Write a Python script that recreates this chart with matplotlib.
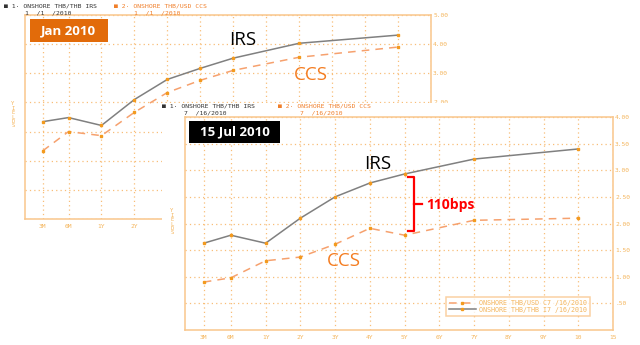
import matplotlib
matplotlib.use("Agg")
import matplotlib.pyplot as plt
from matplotlib.patches import Rectangle
from matplotlib.lines import Line2D

# tenors and their (uneven) places on the axis
tenor_labels = ["3M", "6M", "1Y", "2Y", "3Y", "4Y", "5Y", "6Y", "7Y", "8Y", "9Y", "10", "15"]
tenor_pos = [-0.78, 0, 1, 2, 3, 4, 5, 6, 7, 8, 9, 10, 11]
data_pos = [-0.78, 0, 1, 2, 3, 4, 5, 7, 10]

# Jan 2010
irs_jan = [1.34, 1.48, 1.21, 2.10, 2.79, 3.17, 3.52, 4.03, 4.31]
ccs_jan = [0.34, 1.00, 0.86, 1.66, 2.34, 2.76, 3.10, 3.55, 3.90]
# 15 Jul 2010
irs_jul = [1.63, 1.78, 1.63, 2.10, 2.50, 2.76, 2.93, 3.21, 3.40]
ccs_jul = [0.90, 0.98, 1.30, 1.37, 1.61, 1.91, 1.78, 2.06, 2.10]

jan_yticks = [-2, -1, 0, 1, 2, 3, 4, 5]
jul_yticks = [0.5, 1.0, 1.5, 2.0, 2.5, 3.0, 3.5, 4.0]
jul_ylabels = [".50", "1.00", "1.50", "2.00", "2.50", "3.00", "3.50", "4.00"]

W, H = 640, 345
AX = "#F9C68C"     # spines / ticks
GRID = "#F8BE78"
TXT = "#F4B55C"
MRK = "#F39A1E"
GREY = "#808080"
CCSC = "#F6A16E"
MONO = "DejaVu Sans Mono"


def rect(x0, y0, x1, y1):
    return [x0 / W, 1 - y1 / H, (x1 - x0) / W, (y1 - y0) / H]


def fx(x):
    return x / W


def fy(y):
    return 1 - y / H


def style(ax, ylim, yticks, ylabels):
    ax.set_xlim(-1.32, 11)
    ax.set_ylim(*ylim)
    ax.set_xticks(tenor_pos)
    ax.set_xticklabels(tenor_labels)
    ax.set_yticks(yticks)
    ax.set_yticklabels(ylabels)
    ax.yaxis.tick_right()
    ax.tick_params(length=0, labelsize=4.5, labelcolor=TXT)
    ax.tick_params(axis="x", pad=3.5)
    ax.tick_params(axis="y", pad=1.5)
    for lab in ax.get_xticklabels() + ax.get_yticklabels():
        lab.set_family(MONO)
    for s in ax.spines.values():
        s.set_color(AX)
        s.set_linewidth(1.1)
    ax.grid(True, color=GRID, linestyle=(0, (1, 2.5)), linewidth=0.9)
    ax.set_axisbelow(True)


fig = plt.figure(figsize=(6.4, 3.45), dpi=100)

# background chart: Jan 2010
ax1 = fig.add_axes(rect(25, 15, 431, 219), zorder=0)
style(ax1, (-2, 5), jan_yticks, ["%.2f" % v for v in jan_yticks])
ax1.plot(data_pos, ccs_jan, color=CCSC, lw=1.1, dashes=(5, 4),
         marker="s", ms=1.8, mfc=MRK, mec=MRK)
ax1.plot(data_pos, irs_jan, color=GREY, lw=1.1,
         marker="s", ms=1.8, mfc=MRK, mec=MRK)

# white panel for the front chart
panel = fig.add_axes(rect(162, 103, 640, 345), zorder=1)
panel.set_facecolor("white")
panel.set_xticks([])
panel.set_yticks([])
for s in panel.spines.values():
    s.set_visible(False)

# front chart: 15 Jul 2010
ax2 = fig.add_axes(rect(185, 117, 613, 330), zorder=2)
ax2.set_facecolor("white")
style(ax2, (0, 4), jul_yticks, jul_ylabels)
l_ccs, = ax2.plot(data_pos, ccs_jul, color=CCSC, lw=1.1, dashes=(5, 4),
                  marker="s", ms=1.8, mfc=MRK, mec=MRK)
l_irs, = ax2.plot(data_pos, irs_jul, color=GREY, lw=1.1,
                  marker="s", ms=1.8, mfc=MRK, mec=MRK)
leg = ax2.legend([l_ccs, l_irs],
                 ["ONSHORE THB/USD C7 /16/2010", "ONSHORE THB/THB I7 /16/2010"],
                 loc="center", bbox_to_anchor=(fx(518), fy(306.5)),
                 bbox_transform=fig.transFigure, fontsize=4.8, frameon=True,
                 fancybox=False, handlelength=4.0, borderpad=0.5, numpoints=1,
                 labelspacing=0.05, handletextpad=0.5, borderaxespad=0)
leg.get_frame().set_edgecolor(AX)
leg.get_frame().set_linewidth(1.1)
for t in leg.get_texts():
    t.set_color(TXT)
    t.set_family(MONO)

# header texts
hdr = dict(fontsize=4.6, family=MONO, va="center", ha="left")
fig.text(fx(4), fy(6), "■ 1· ONSHORE THB/THB IRS", color="#333333", **hdr)
fig.text(fx(25), fy(13), "1  /1  /2010", color="#333333", **hdr)
fig.text(fx(114), fy(6), "■ 2· ONSHORE THB/USD CCS", color="#F07F2A", **hdr)
fig.text(fx(134), fy(13), "1  /1  /2010", color="#F07F2A", **hdr)
fig.text(fx(162), fy(106), "■ 1· ONSHORE THB/THB IRS", color="#333333", zorder=5, **hdr)
fig.text(fx(184), fy(113), "7  /16/2010", color="#333333", zorder=5, **hdr)
fig.text(fx(278), fy(106), "■ 2· ONSHORE THB/USD CCS", color="#F07F2A", zorder=5, **hdr)
fig.text(fx(300), fy(113), "7  /16/2010", color="#F07F2A", zorder=5, **hdr)

# YIELDS labels
ylab = dict(fontsize=4, family=MONO, color=TXT, ha="center", va="center",
            linespacing=0.85)
fig.text(fx(13), fy(115), "Y\nI\nE\nL\nD\nS", **ylab)
fig.text(fx(172), fy(222), "Y\nI\nE\nL\nD\nS", zorder=5, **ylab)

# date boxes
fig.add_artist(Rectangle((fx(30), fy(42)), (108 - 30) / W, (42 - 19) / H,
                         transform=fig.transFigure, facecolor="#E26B0A",
                         edgecolor="none", zorder=3))
fig.text(fx(69), fy(30.5), "Jan 2010", color="white", fontsize=9.5,
         fontweight="bold", family="Open Sans", ha="center", va="center", zorder=4)
fig.add_artist(Rectangle((fx(189), fy(143)), (280 - 189) / W, (143 - 121) / H,
                         transform=fig.transFigure, facecolor="black",
                         edgecolor="none", zorder=6))
fig.text(fx(234.5), fy(132), "15 Jul 2010", color="white", fontsize=9.5,
         fontweight="bold", family="Open Sans", ha="center", va="center", zorder=7)

# curve labels
big = dict(fontsize=13.5, family="Open Sans", ha="center", va="center")
fig.text(fx(243), fy(40), "IRS", color="black", zorder=0.5, **big)
fig.text(fx(311), fy(75), "CCS", color="#F47C20", zorder=0.5, **big)
fig.text(fx(378), fy(164), "IRS", color="black", zorder=5, **big)
fig.text(fx(344), fy(261), "CCS", color="#F47C20", zorder=5, **big)

# red bracket for the 5Y spread
bx = [fx(408), fx(414), fx(414), fx(408)]
by = [fy(177), fy(177), fy(231), fy(231)]
fig.add_artist(Line2D(bx, by, color="red", lw=1.6, transform=fig.transFigure, zorder=6))
fig.add_artist(Line2D([fx(414), fx(422)], [fy(204), fy(204)], color="red", lw=1.6,
                      transform=fig.transFigure, zorder=6))
fig.text(fx(426), fy(205), "110bps", color="red", fontsize=10, fontweight="bold",
         family="Open Sans", ha="left", va="center", zorder=6)

fig.savefig("out.png", dpi=100)
